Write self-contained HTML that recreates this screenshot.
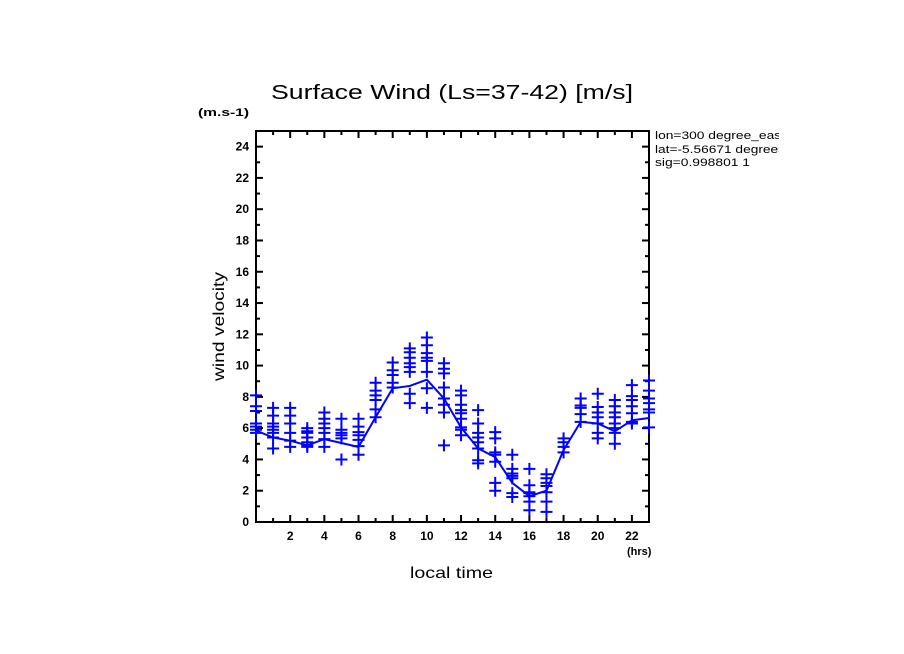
<!DOCTYPE html>
<html><head><meta charset="utf-8"><style>
html,body{margin:0;padding:0;background:#fff;}
svg{display:block;font-family:"Liberation Sans",sans-serif;}
</style></head><body>
<svg id="chart" width="904" height="654" viewBox="0 0 904 654">
<rect width="904" height="654" fill="#fff"/>
<text x="271" y="99" font-size="20" textLength="362" lengthAdjust="spacingAndGlyphs">Surface Wind  (Ls=37-42) [m/s]</text>
<text x="198" y="116" font-size="11" font-weight="bold" textLength="51" lengthAdjust="spacingAndGlyphs">(m.s-1)</text>
<text x="627" y="555" font-size="11" font-weight="bold">(hrs)</text>
<text x="410" y="578" font-size="16" textLength="83" lengthAdjust="spacingAndGlyphs">local time</text>
<text transform="translate(224,381) rotate(-90)" font-size="16" textLength="109" lengthAdjust="spacingAndGlyphs">wind velocity</text>
<defs><clipPath id="infoclip"><rect x="650" y="120" width="129" height="60"/></clipPath></defs>
<g font-size="11" clip-path="url(#infoclip)">
<text x="655" y="139" textLength="130" lengthAdjust="spacingAndGlyphs">lon=300 degree_east</text>
<text x="655" y="153" textLength="130" lengthAdjust="spacingAndGlyphs">lat=-5.56671 degrees</text>
<text x="655" y="166" textLength="95" lengthAdjust="spacingAndGlyphs">sig=0.998801 1</text>
</g>
<g id="axes"></g>
<g id="marks"></g>
</svg>
<script>
const hours = [0,1,2,3,4,5,6,7,8,9,10,11,12,13,14,15,16,17,18,19,20,21,22,23];
const meanValues = [5.85,5.4,5.2,4.9,5.3,5.05,4.8,6.7,8.55,8.7,9.1,7.9,6.05,4.7,4.15,2.5,1.65,2.0,4.6,6.4,6.3,5.8,6.5,6.65];
const samples = [
[8.1,7.4,7.1,6.3,6.1,5.9,5.7],
[7.3,6.8,6.3,6.1,5.9,5.7,5.4,4.7],
[7.3,6.8,6.3,5.7,5.2,4.8],
[6.0,5.8,5.7,5.4,5.1,4.9,4.8],
[7.0,6.6,6.3,6.0,5.7,5.3,4.8],
[6.6,5.9,5.7,5.55,5.35,4.0],
[6.6,6.1,5.75,5.55,5.25,4.85,4.3],
[8.9,8.4,8.1,7.8,7.2,6.7],
[10.2,9.7,9.4,8.9,8.6],
[11.1,10.85,10.5,10.15,9.9,9.6,8.2,7.6],
[11.8,11.3,10.8,10.5,10.3,9.6,8.55,7.3],
[10.15,9.8,9.5,8.6,7.9,7.5,7.0,4.9],
[8.4,8.1,7.5,7.15,6.95,6.6,6.05,5.9,5.55],
[7.15,6.3,5.7,5.4,5.1,4.7,3.95,3.75],
[5.75,5.35,4.45,4.3,3.85,2.5,2.0],
[4.3,3.4,3.1,2.95,2.8,1.85,1.6],
[3.4,2.35,1.9,1.85,1.65,1.3,0.75],
[3.05,2.8,2.5,2.3,1.9,1.3,0.65],
[5.35,5.1,4.8,4.45],
[7.9,7.45,7.3,6.9,6.4],
[8.2,7.35,7.0,6.7,6.3,5.7,5.35],
[7.8,7.4,7.0,6.7,6.3,6.0,5.7,5.0],
[8.75,8.05,7.8,7.4,6.95,6.4,6.3],
[9.05,8.4,7.9,7.6,7.2,7.0,6.05]
];
const yTickLabels = [0,2,4,6,8,10,12,14,16,18,20,22,24];
const xTickLabels = [2,4,6,8,10,12,14,16,18,20,22];

const NS = "http://www.w3.org/2000/svg";
const L=256, R=649, T=131, B=522, XMAX=23, YMAX=25;
const sx = v => L + v/XMAX*(R-L);
const sy = v => B - v/YMAX*(B-T);
function mk(tag, attrs, parent){const e=document.createElementNS(NS,tag);for(const k in attrs)e.setAttribute(k,attrs[k]);parent.appendChild(e);return e;}
const axes=document.getElementById('axes'), marks=document.getElementById('marks');

const frame = mk('rect',{x:L,y:T,width:R-L,height:B-T,fill:'none',stroke:'#000','stroke-width':2},axes);



for(let v=0; v<=YMAX; v++){
  const len = v%2===0 ? 7 : 4, y = sy(v);
  mk('line',{x1:L,x2:L+len,y1:y,y2:y,stroke:'#000','stroke-width':2},axes);
  mk('line',{x1:R,x2:R-len,y1:y,y2:y,stroke:'#000','stroke-width':2},axes);
}
for(let h=0; h<=XMAX; h++){
  const len = h%2===0 ? 7 : 4, x = sx(h);
  mk('line',{x1:x,x2:x,y1:B,y2:B-len,stroke:'#000','stroke-width':2},axes);
  mk('line',{x1:x,x2:x,y1:T,y2:T+len,stroke:'#000','stroke-width':2},axes);
}
yTickLabels.forEach(v=>{
  const t=mk('text',{x:L-7,y:sy(v)+4,'font-size':12,'font-weight':'bold','text-anchor':'end'},axes);
  t.textContent=v;
  
  
});
xTickLabels.forEach(v=>{
  const t=mk('text',{x:sx(v),y:B+18,'font-size':12,'font-weight':'bold','text-anchor':'middle'},axes);
  t.textContent=v;
  
  
});

const pts = hours.map((h,i)=>sx(h)+','+sy(meanValues[i])).join(' ');
const line = mk('polyline',{points:pts,fill:'none',stroke:'#0000ff','stroke-width':2},marks);



hours.forEach((h,i)=>{
  samples[i].forEach(v=>{
    const x=sx(h), y=sy(v);
    const p=mk('path',{d:`M${x-6} ${y}H${x+6}M${x} ${y-6}V${y+6}`,stroke:'#0000ff','stroke-width':2,fill:'none'},marks);
    
    
  });
});
</script>
</body></html>
